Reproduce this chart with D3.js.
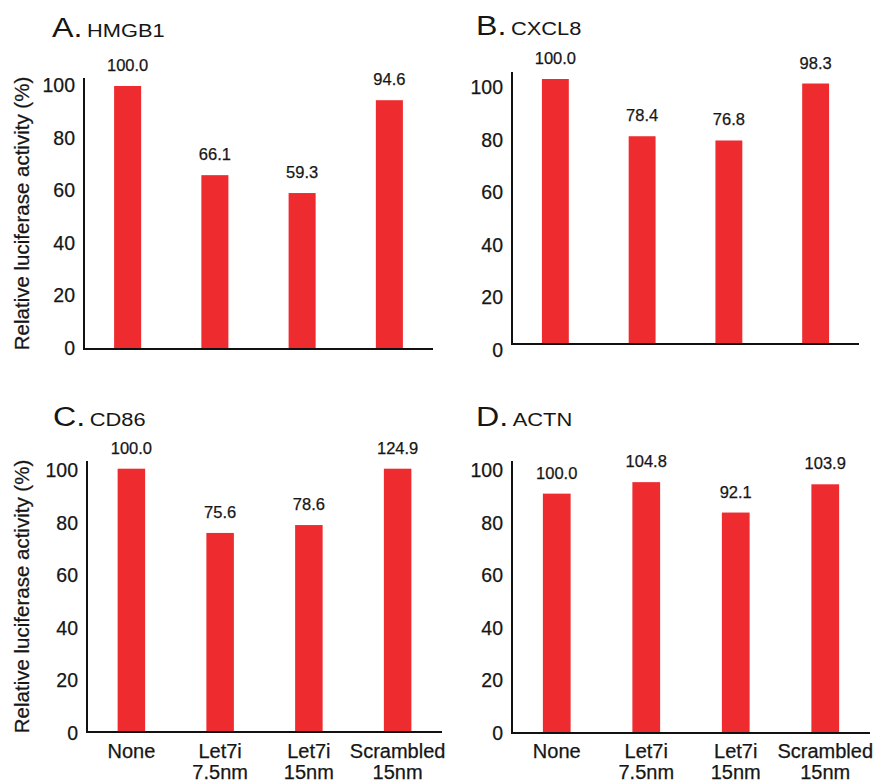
<!DOCTYPE html>
<html lang="en">
<head>
    <meta charset="UTF-8">
    <title>luciferase</title>
    <script src="https://cdn.jsdelivr.net/npm/d3@7"></script>
    <style>
        body{margin:0;background:#fff;}
        text{font-family:"Liberation Sans",Arial,Helvetica,sans-serif;fill:#161616;stroke:#161616;stroke-width:0.25px;}
        text.title{stroke:none;}
    </style>
</head>
<body>
    <script>
        var width=883;
        var height=784;

        // data
        var categories=["None","Let7i 7.5nm","Let7i 15nm","Scrambled 15nm"];
        var hmgb1=[100.0,66.1,59.3,94.6];
        var cxcl8=[100.0,78.4,76.8,98.3];
        var cd86=[100.0,75.6,78.6,124.9];
        var actn=[100.0,104.8,92.1,103.9];
        var yTicks=[0,20,40,60,80,100];

        // panel layout (positions only); barMax = value the bars reach at the top of the bar range
        var panels=[
            {letter:"A.",gene:"HMGB1",values:hmgb1,x0:84,base:349,top:78,len:349,tick:[348,85],bar:[349,86],barMax:100,tx:52,ty:37,ylabel:true,cats:false},
            {letter:"B.",gene:"CXCL8",values:cxcl8,x0:512,base:344,top:72,len:347,tick:[349.5,87],bar:[344,79],barMax:100,tx:476,ty:35,ylabel:false,cats:false},
            {letter:"C.",gene:"CD86",values:cd86,x0:87,base:732,top:461,len:355,tick:[733,470],bar:[732,468.7],barMax:100,tx:53,ty:426,ylabel:true,cats:true},
            {letter:"D.",gene:"ACTN",values:actn,x0:512,base:733,top:461,len:358,tick:[733,470],bar:[733,469.7],barMax:110,tx:476,ty:426,ylabel:false,cats:true}
        ];

        var svg=d3.select("body").append("svg").attr("width",width).attr("height",height);

        panels.forEach(function(p){
            var g=svg.append("g");
            var xScale=d3.scaleBand().domain(categories).range([p.x0,p.x0+p.len]).paddingInner(0.69).paddingOuter(0.345);
            var yScale=d3.scaleLinear().domain([0,p.barMax]).range(p.bar).clamp(true);
            var tickScale=d3.scaleLinear().domain([0,100]).range(p.tick);

            //标题
            var t=g.append("text").attr("class","title").attr("transform","translate("+p.tx+","+p.ty+") scale(1.15,1)");
            t.append("tspan").attr("font-size",28).text(p.letter);
            t.append("tspan").attr("font-size",19).attr("dx",4).text(p.gene);

            //柱子
            g.selectAll("rect")
                .data(p.values)
                .enter()
                .append("rect")
                .attr("fill","#ee2c30")
                .attr("x",function(d,i){return xScale(categories[i]);})
                .attr("width",xScale.bandwidth())
                .attr("y",function(d){return yScale(d);})
                .attr("height",function(d){return p.bar[0]-yScale(d);});

            //数值
            g.selectAll(".val")
                .data(p.values)
                .enter()
                .append("text")
                .attr("class","val")
                .attr("font-size",16.5)
                .attr("text-anchor","middle")
                .attr("x",function(d,i){return xScale(categories[i])+xScale.bandwidth()/2;})
                .attr("y",function(d){return yScale(d)-15;})
                .text(function(d){return d3.format(".1f")(d);});

            //坐标轴
            g.append("line").attr("x1",p.x0).attr("x2",p.x0).attr("y1",p.top).attr("y2",p.base)
                .attr("stroke","#111").attr("stroke-width",2);
            g.append("line").attr("x1",p.x0-1).attr("x2",p.x0+p.len).attr("y1",p.base).attr("y2",p.base)
                .attr("stroke","#111").attr("stroke-width",2);

            g.selectAll(".tick")
                .data(yTicks)
                .enter()
                .append("text")
                .attr("class","tick")
                .attr("font-size",19.5)
                .attr("text-anchor","end")
                .attr("dominant-baseline","central")
                .attr("x",p.x0-9)
                .attr("y",function(d){return tickScale(d);})
                .text(function(d){return d;});

            if(p.ylabel){
                var mid=(p.top+p.base)/2;
                g.append("text")
                    .attr("font-size",20.5)
                    .attr("text-anchor","middle")
                    .attr("transform","translate(29,"+mid+") rotate(-90)")
                    .text("Relative luciferase activity (%)");
            }

            if(p.cats){
                var c=g.selectAll(".cat")
                    .data(categories)
                    .enter()
                    .append("text")
                    .attr("class","cat")
                    .attr("font-size",20)
                    .attr("text-anchor","middle");
                c.each(function(d){
                    var parts=d.split(" ");
                    var cx=xScale(d)+xScale.bandwidth()/2;
                    var el=d3.select(this);
                    parts.forEach(function(s,k){
                        el.append("tspan").attr("x",cx).attr("y",758+k*21).text(s);
                    });
                });
            }
        });
    </script>
</body>
</html>
